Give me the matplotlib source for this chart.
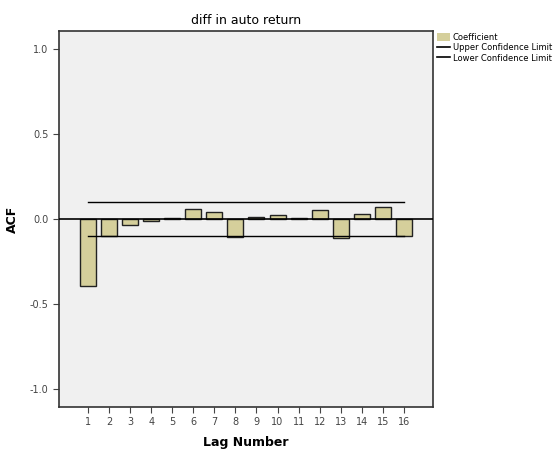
import matplotlib.pyplot as plt
from matplotlib.patches import Patch
from matplotlib.lines import Line2D

# data
lags = list(range(1, 17))
acf = [-0.395, -0.10, -0.035, -0.01, 0.005, 0.057, 0.043, -0.108,
       0.01, 0.025, 0.005, 0.053, -0.112, 0.028, 0.069, -0.10]
upper = [0.102] * 16
lower = [-0.10] * 16
yticks = [-1.0, -0.5, 0.0, 0.5, 1.0]

bar_color = "#d5cf9b"

fig = plt.figure(figsize=(5.59, 4.49), dpi=100)
ax = fig.add_axes([0.1055, 0.0935, 0.669, 0.8375])
ax.set_facecolor("#f0f0f0")

ax.bar(lags, acf, width=0.76, color=bar_color, edgecolor="#222222",
       linewidth=1.0, zorder=2)
ax.axhline(0, color="black", linewidth=1.2, zorder=3)
ax.plot(lags, upper, color="black", linewidth=1.0, zorder=3)
ax.plot(lags, lower, color="black", linewidth=1.0, zorder=3)

ax.set_xlim(-0.38, 17.38)
ax.set_ylim(-1.106, 1.106)
ax.set_xticks(lags)
ax.set_xticklabels([str(l) for l in lags])
ax.set_yticks(yticks)
ax.set_yticklabels(["%.1f" % t for t in yticks])
ax.tick_params(labelsize=7, colors="#444444", length=4, width=0.8)
for s in ax.spines.values():
    s.set_color("#333333")
    s.set_linewidth(1.2)

ax.set_title("diff in auto return", fontsize=9, pad=5)
ax.set_xlabel("Lag Number", fontsize=9, fontweight="bold", labelpad=6)
ax.set_ylabel("ACF", fontsize=9, fontweight="bold", labelpad=8)

handles = [
    Patch(facecolor=bar_color, edgecolor="none"),
    Line2D([], [], color="black", linewidth=1.2),
    Line2D([], [], color="black", linewidth=1.2),
]
labels = ["Coefficient", "Upper Confidence Limit", "Lower Confidence Limit"]
fig.legend(handles, labels, loc="upper left", bbox_to_anchor=(0.776, 0.935),
           frameon=False, fontsize=6, handlelength=1.6, handleheight=1.1,
           handletextpad=0.3, labelspacing=0.2, borderaxespad=0)

fig.savefig("out.png", dpi=100)
